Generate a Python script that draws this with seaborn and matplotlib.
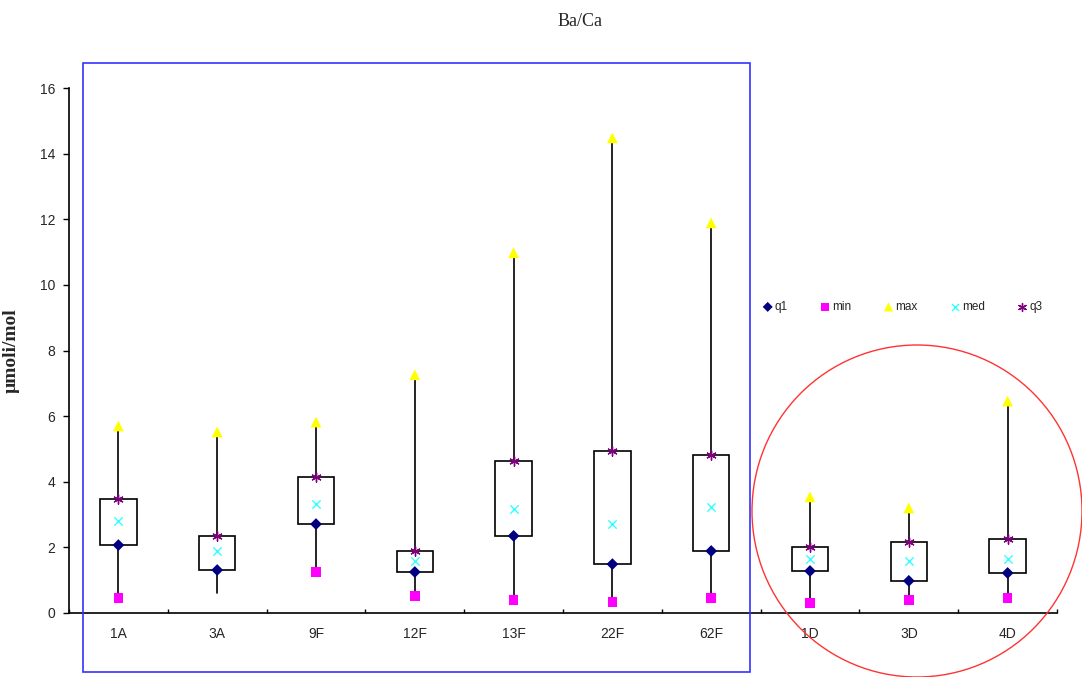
import matplotlib
matplotlib.use("Agg")
import matplotlib.pyplot as plt
from matplotlib.patches import Rectangle, Ellipse
import numpy as np
import pandas as pd
import seaborn as sns

# --- data (µmoli/mol) ---
categories = ["1A", "3A", "9F", "12F", "13F", "22F", "62F", "1D", "3D", "4D"]
q1_vals  = [2.07, 1.31, 2.71, 1.25, 2.35, 1.49, 1.89, 1.28, 0.98, 1.22]
min_vals = [0.46, 0.60, 1.25, 0.52, 0.40, 0.34, 0.46, 0.30, 0.40, 0.46]
max_vals = [5.70, 5.52, 5.82, 7.26, 10.98, 14.48, 11.89, 3.54, 3.20, 6.46]
med_vals = [2.80, 1.89, 3.32, 1.59, 3.17, 2.71, 3.23, 1.65, 1.59, 1.65]
q3_vals  = [3.48, 2.35, 4.15, 1.89, 4.63, 4.94, 4.82, 2.01, 2.16, 2.26]
min_shown = [True, False, True, True, True, True, True, True, True, True]

sns.set_style("white")
plt.rcParams["font.family"] = ["Liberation Sans", "DejaVu Sans"]

fig = plt.figure(figsize=(10.82, 6.77), dpi=100)
ax = fig.add_axes([69 / 1082, 1 - 613 / 677, 988 / 1082, 525 / 677])

# boxes + whiskers from the given stats
stats = []
for i, c in enumerate(categories):
    stats.append(dict(label=c, q1=q1_vals[i], q3=q3_vals[i], med=med_vals[i],
                      whislo=min_vals[i], whishi=max_vals[i], fliers=[]))
ax.bxp(stats, positions=np.arange(len(categories)), widths=0.37,
       showcaps=False, showfliers=False, patch_artist=True,
       boxprops=dict(facecolor="white", edgecolor="black", linewidth=1.2),
       whiskerprops=dict(color="black", linewidth=1.2),
       medianprops=dict(linewidth=0))

# markers via seaborn
rows = []
for i, c in enumerate(categories):
    rows.append((i, "q1", q1_vals[i]))
    if min_shown[i]:
        rows.append((i, "min", min_vals[i]))
    rows.append((i, "max", max_vals[i]))
    rows.append((i, "med", med_vals[i]))
    rows.append((i, "q3", q3_vals[i]))
df = pd.DataFrame(rows, columns=["pos", "stat", "value"])

palette = {"q1": "#000080", "min": "#ff00ff", "max": "#ffff00", "med": "#33ffff", "q3": "#800080"}
markers = {"q1": "D", "min": "s", "max": "^", "med": "x", "q3": (6, 2, 0)}
sizes = {"q1": 36, "min": 48, "max": 60, "med": 36, "q3": 45}
for stat in ["q1", "min", "max", "med", "q3"]:
    sub = df[df["stat"] == stat]
    sns.scatterplot(data=sub, x="pos", y="value", ax=ax, color=palette[stat],
                    marker=markers[stat], s=sizes[stat], label=stat, zorder=5,
                    linewidth=1 if stat in ("med", "q3") else 0,
                    edgecolor=palette[stat] if stat in ("med", "q3") else "none")

handles, labels = ax.get_legend_handles_labels()
ax.get_legend().remove()
fig.legend(handles, labels, loc="center left", bbox_to_anchor=(750 / 1082, 1 - 307 / 677),
           ncol=5, frameon=False, fontsize=8.5, handletextpad=0.0, columnspacing=2.55,
           handlelength=1.2, markerscale=0.85)

# axes styling
ax.set_xlim(-0.5, len(categories) - 0.5)
ax.set_ylim(0, 16)
ax.set_xticks(np.arange(len(categories)))
ax.set_xticklabels(categories, fontsize=10)
ax.set_xticks(np.arange(len(categories) + 1) - 0.5, minor=True)
ax.tick_params(axis="x", which="major", bottom=False, length=0, pad=10)
ax.tick_params(axis="x", which="minor", bottom=True, direction="in", length=3, width=1, color="black")
ax.set_yticks(np.arange(0, 17, 2))
ax.tick_params(axis="y", left=True, direction="out", length=4, width=1, color="black", labelsize=10, pad=6)
ax.set_xlabel("")
ax.set_ylabel("µmoli/mol", fontsize=14, fontweight="bold", family="Liberation Serif", labelpad=14)
for side in ["top", "right"]:
    ax.spines[side].set_visible(False)
for side in ["left", "bottom"]:
    ax.spines[side].set_color("black")
    ax.spines[side].set_linewidth(1.2)

fig.text(580 / 1082, 1 - 22 / 677, "Ba/Ca", ha="center", va="center",
         fontsize=13, family="Liberation Serif")

# highlight frames
fig.patches.append(Rectangle((83 / 1082, 1 - 672 / 677), 667 / 1082, 609 / 677,
                             transform=fig.transFigure, fill=False, edgecolor="#3333ff", linewidth=1.2))
fig.patches.append(Ellipse((917 / 1082, 1 - 511 / 677), 330 / 1082, 332 / 677,
                           transform=fig.transFigure, fill=False, edgecolor="#ff3333", linewidth=1))

fig.savefig("out.png", dpi=100)
